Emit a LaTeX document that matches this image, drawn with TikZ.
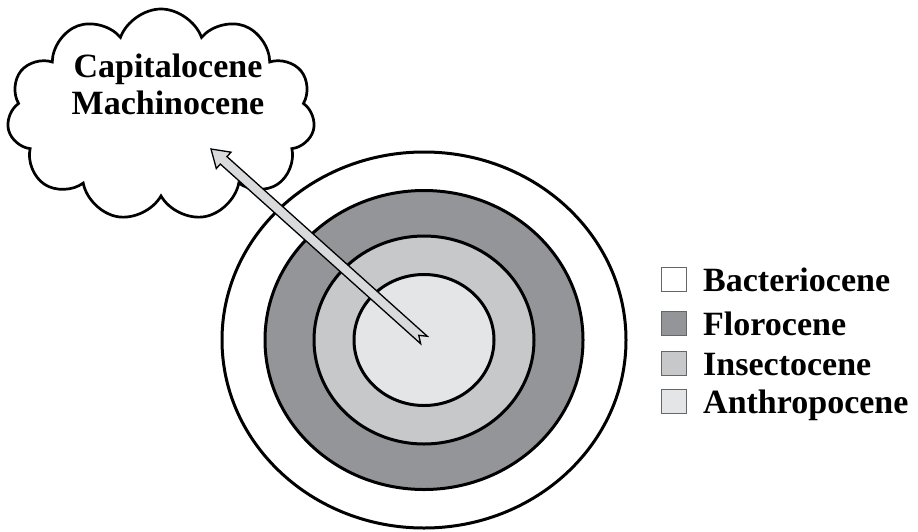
\documentclass[tikz,border=0pt]{standalone}
\usepackage{fontspec}
\setmainfont{Liberation Serif}
\usepackage{tikz}
\usetikzlibrary{shapes.geometric,shapes.symbols,calc,positioning}
\definecolor{floro}{HTML}{939598}
\definecolor{insect}{HTML}{C7C8CA}
\definecolor{anthro}{HTML}{E4E5E6}
\definecolor{arrowfill}{HTML}{D9DADC}

\begin{document}
\begin{tikzpicture}[x=1pt,y=-1pt,
    ring/.style={ellipse,draw=black,line width=3pt,inner sep=0pt},
    keybox/.style={rectangle,draw=black!60,line width=0.8pt,minimum width=25pt,minimum height=24pt,inner sep=0pt},
    keytext/.style={anchor=base west,inner sep=0pt,font=\bfseries\fontsize{34}{38}\selectfont}]
\useasboundingbox (0,0) rectangle (918,531);

% the cloud
\node[cloud,draw=black,line width=2.7pt,cloud puffs=11,cloud puff arc=140,aspect=1.5,
      minimum width=308pt,minimum height=212pt,inner sep=0pt] (capcloud) at (161,115) {};
\node[align=center,inner sep=0pt,font=\bfseries\fontsize{34}{37}\selectfont] (cloudtext) at (168,84) {Capitalocene\\Machinocene};

% the rings
\begin{scope}[every node/.style={ring}]
    \node[fill=white,minimum width=404pt,minimum height=376pt] (bact) at (424,340) {};
    \node[fill=floro,minimum width=318pt,minimum height=299pt] (floro) at (424,340) {};
    \node[fill=insect,minimum width=220pt,minimum height=208pt] (insect) at (424,340) {};
    \node[fill=anthro,minimum width=140pt,minimum height=131pt] (anthro) at (424,340) {};
\end{scope}

% legend
\begin{scope}[every node/.style={keybox}]
    \node[fill=white] (kbact) at (674,279) {};
    \node[fill=floro] (kfloro) at (674,323.5) {};
    \node[fill=insect] (kinsect) at (674,363) {};
    \node[fill=anthro] (kanthro) at (674,401) {};
\end{scope}
\node[keytext] (tbact) at (703,291) {Bacteriocene};
\node[keytext] (tfloro) at (703,335) {Florocene};
\node[keytext] (tinsect) at (703,375) {Insectocene};
\node[keytext] (tanthro) at (703,413) {Anthropocene};

% the arrow
\coordinate (tip) at (211,149);
\coordinate (neck) at ($(tip)!17pt!(anthro.center)$);
\filldraw[fill=arrowfill,draw=black,line width=1.3pt,line join=miter]
    ($(anthro.center)!5pt!90:(tip)$) -- ($(anthro.center)!7pt!(tip)$)
    -- ($(anthro.center)!5pt!-90:(tip)$) -- ($(neck)!5pt!-90:(tip)$)
    -- ($(neck)!11pt!-90:(tip)$) -- (tip) -- ($(neck)!11pt!90:(tip)$)
    -- ($(neck)!5pt!90:(tip)$) -- cycle;
\end{tikzpicture}
\end{document}
